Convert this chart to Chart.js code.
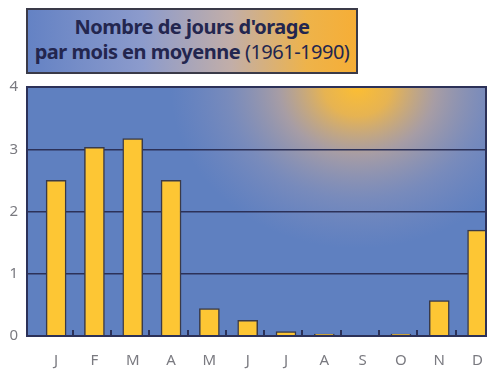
<!DOCTYPE html>
<html>
<head>
<meta charset="utf-8">
<script src="https://cdn.jsdelivr.net/npm/chart.js"></script>
<style>
  html, body { margin: 0; padding: 0; background: #fff; }
  #wrap { position: relative; width: 500px; height: 371px; }
  #titleBox {
    position: absolute; left: 26px; top: 8px; width: 328px; height: 58px;
    border: 2px solid #3a3a48;
    background: linear-gradient(to right, #6482c4 0%, #8c9bcc 35%, #c2aea8 62%, #eeb34a 85%, #f6ae36 100%);
    color: #23264f; font-family: "Noto Sans", sans-serif; font-weight: 700;
    font-size: 20px; line-height: 25px; text-align: center;
    padding-top: 4px; box-sizing: content-box; letter-spacing: -0.5px;
  }
  #titleBox span { font-weight: 400; }
</style>
</head>
<body>
<div id="wrap">
  <canvas id="chart" width="500" height="371"></canvas>
  <div id="titleBox">Nombre de jours d'orage<br>par mois en moyenne <span>(1961-1990)</span></div>
</div>
<script>
// mois et valeurs
const months = ["J", "F", "M", "A", "M", "J", "J", "A", "S", "O", "N", "D"];
const stormDays = [2.5, 3.03, 3.17, 2.5, 0.44, 0.25, 0.07, 0.03, 0, 0.03, 0.57, 1.7];
const yTicks = [0, 1, 2, 3, 4];

const NAVY = "#2c3158";

// fond bleu + lueur du soleil en haut
const backgroundPlugin = {
  id: "skyBackground",
  beforeDraw: (chart) => {
    const { ctx, chartArea: a } = chart;
    ctx.save();
    ctx.fillStyle = "#5f80c0";
    ctx.fillRect(a.left, a.top, a.right - a.left, a.bottom - a.top);
    const cx = a.left + (a.right - a.left) * 0.72;
    ctx.beginPath();
    ctx.rect(a.left, a.top, a.right - a.left, a.bottom - a.top);
    ctx.clip();
    ctx.translate(cx, a.top);
    ctx.scale(1.1, 0.95);
    const g = ctx.createRadialGradient(0, 0, 0, 0, 0, 170);
    g.addColorStop(0, "rgba(252,190,50,1)");
    g.addColorStop(0.18, "rgba(245,185,70,0.9)");
    g.addColorStop(0.42, "rgba(205,172,150,0.65)");
    g.addColorStop(0.7, "rgba(165,158,180,0.35)");
    g.addColorStop(1, "rgba(150,150,190,0)");
    ctx.fillStyle = g;
    ctx.fillRect(-250, -10, 500, 250);
    ctx.restore();
  },
  afterDatasetsDraw: (chart) => {
    const { ctx, chartArea: a, scales: { x } } = chart;
    ctx.save();
    ctx.strokeStyle = NAVY;
    // petits traits entre les mois
    ctx.lineWidth = 2;
    ctx.beginPath();
    for (let i = 0; i < months.length - 1; i++) {
      const px = Math.round(x.getPixelForValue(i + 0.43));
      ctx.moveTo(px, a.bottom);
      ctx.lineTo(px, a.bottom - 6);
    }
    ctx.stroke();
    // cadre
    ctx.lineWidth = 2;
    ctx.strokeRect(a.left, a.top, a.right - a.left, a.bottom - a.top);
    ctx.restore();
  },
};

new Chart(document.getElementById("chart"), {
  type: "bar",
  data: {
    datasets: [{
      data: stormDays.map((v, i) => ({ x: i, y: v })),
      backgroundColor: "#fdc634",
      borderColor: "#3a3a48",
      borderWidth: 1.5,
      borderSkipped: "bottom",
      barThickness: 20,
    }],
  },
  plugins: [backgroundPlugin],
  options: {
    responsive: false,
    animation: false,
    layout: { padding: { top: 87, right: 14, left: 0, bottom: 0 } },
    plugins: { legend: { display: false }, tooltip: { enabled: false } },
    scales: {
      x: {
        type: "linear",
        min: -0.76,
        max: 11.22,
        offset: false,
        grid: { display: false },
        border: { display: false },
        afterBuildTicks: (s) => { s.ticks = months.map((m, i) => ({ value: i })); },
        afterFit: (s) => { s.height = 35; },
        ticks: {
          padding: 8,
          color: "#7a7a80",
          font: { family: "Noto Sans", size: 15 },
          callback: (v) => months[v],
        },
      },
      y: {
        min: 0,
        max: 4,
        afterBuildTicks: (s) => { s.ticks = yTicks.map((v) => ({ value: v })); },
        afterFit: (s) => { s.width = 27; },
        grid: { color: NAVY, lineWidth: 1.5, drawTicks: false },
        border: { display: false },
        ticks: {
          padding: 9,
          color: "#7a7a80",
          font: { family: "Noto Sans", size: 15 },
        },
      },
    },
  },
});
</script>
</body>
</html>
